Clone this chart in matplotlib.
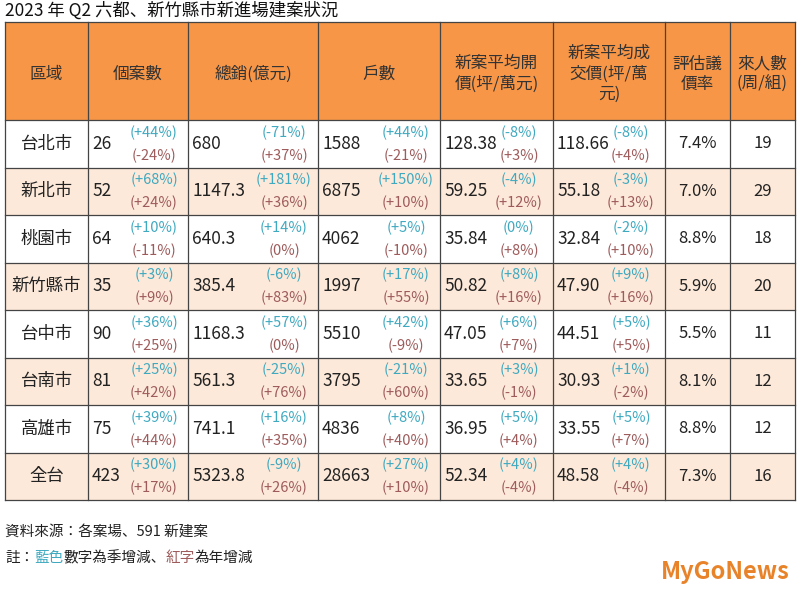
import matplotlib
matplotlib.use("Agg")
import matplotlib.pyplot as plt
from matplotlib.patches import Rectangle
from matplotlib import font_manager

names = {f.name for f in font_manager.fontManager.ttflist}
cands = [n for n in ["Noto Sans CJK TC", "Noto Sans CJK JP", "Noto Sans CJK SC", "Noto Sans CJK KR"] if n in names]
plt.rcParams['font.family'] = cands + ['DejaVu Sans']

title = "2023 年 Q2 六都、新竹縣市新進場建案狀況"
headers = ["區域", "個案數", "總銷(億元)", "戶數", "新案平均開\n價(坪/萬元)", "新案平均成\n交價(坪/萬\n元)", "評估議\n價率", "來人數\n(周/組)"]
regions = ["台北市", "新北市", "桃園市", "新竹縣市", "台中市", "台南市", "高雄市", "全台"]
cases = ["26", "52", "64", "35", "90", "81", "75", "423"]
cases_q = ["+44%", "+68%", "+10%", "+3%", "+36%", "+25%", "+39%", "+30%"]
cases_y = ["-24%", "+24%", "-11%", "+9%", "+25%", "+42%", "+44%", "+17%"]
sales = ["680", "1147.3", "640.3", "385.4", "1168.3", "561.3", "741.1", "5323.8"]
sales_q = ["-71%", "+181%", "+14%", "-6%", "+57%", "-25%", "+16%", "-9%"]
sales_y = ["+37%", "+36%", "0%", "+83%", "0%", "+76%", "+35%", "+26%"]
units = ["1588", "6875", "4062", "1997", "5510", "3795", "4836", "28663"]
units_q = ["+44%", "+150%", "+5%", "+17%", "+42%", "-21%", "+8%", "+27%"]
units_y = ["-21%", "+10%", "-10%", "+55%", "-9%", "+60%", "+40%", "+10%"]
ask = ["128.38", "59.25", "35.84", "50.82", "47.05", "33.65", "36.95", "52.34"]
ask_q = ["-8%", "-4%", "0%", "+8%", "+6%", "+3%", "+5%", "+4%"]
ask_y = ["+3%", "+12%", "+8%", "+16%", "+7%", "-1%", "+4%", "-4%"]
deal = ["118.66", "55.18", "32.84", "47.90", "44.51", "30.93", "33.55", "48.58"]
deal_q = ["-8%", "-3%", "-2%", "+9%", "+5%", "+1%", "+5%", "+4%"]
deal_y = ["+4%", "+13%", "+10%", "+16%", "+5%", "-2%", "+7%", "-4%"]
bargain = ["7.4%", "7.0%", "8.8%", "5.9%", "5.5%", "8.1%", "8.8%", "7.3%"]
visitors = ["19", "29", "18", "20", "11", "12", "12", "16"]

fig = plt.figure(figsize=(8, 6), dpi=100)
ax = fig.add_axes([0, 0, 1, 1])
ax.set_xlim(0, 800); ax.set_ylim(600, 0); ax.axis('off')

xs = [5, 88, 188, 318, 440, 553, 665, 730, 795]
y_head = 22; y_h2 = 120; rh = 47.5
ORANGE = "#F79646"; PEACH = "#FDE9D9"; BLUE = "#3FA9C0"; RED = "#9E5B5B"; TXT = "#222222"

ax.text(5, 11, title, fontsize=12.5, va='center', ha='left', color='#111')
ax.add_patch(Rectangle((xs[0], y_head), xs[-1]-xs[0], y_h2-y_head, fc=ORANGE, ec='none'))
for i, h in enumerate(headers):
    ax.text((xs[i]+xs[i+1])/2, (y_head+y_h2)/2 + 3, h, ha='center', va='center', fontsize=12, color='#333', linespacing=1.25)

groups = [(cases, cases_q, cases_y), (sales, sales_q, sales_y), (units, units_q, units_y),
          (ask, ask_q, ask_y), (deal, deal_q, deal_y)]
for r in range(len(regions)):
    y0 = y_h2 + r*rh
    fc = "white" if r % 2 == 0 else PEACH
    if r == len(regions)-1: fc = PEACH
    ax.add_patch(Rectangle((xs[0], y0), xs[-1]-xs[0], rh, fc=fc, ec='none'))
    yc = y0 + rh/2
    ax.text((xs[0]+xs[1])/2, yc, regions[r], ha='center', va='center', fontsize=12.5, color=TXT)
    for g, (v, q, yy) in enumerate(groups):
        xl, xr = xs[g+1], xs[g+2]
        ax.text(xl+4, yc, v[r], ha='left', va='center', fontsize=12.5, color=TXT)
        xm = xr - 34
        ax.text(xm, yc-11, f"({q[r]})", ha='center', va='center', fontsize=10.5, color=BLUE)
        ax.text(xm, yc+12, f"({yy[r]})", ha='center', va='center', fontsize=10.5, color=RED)
    ax.text((xs[6]+xs[7])/2, yc, bargain[r], ha='center', va='center', fontsize=12, color=TXT)
    ax.text((xs[7]+xs[8])/2, yc, visitors[r], ha='center', va='center', fontsize=12, color=TXT)

y_end = y_h2 + len(regions)*rh
for x in xs:
    ax.plot([x, x], [y_head, y_end], color='#444', lw=0.9)
for k in range(len(regions)+1):
    y = y_h2 + k*rh
    ax.plot([xs[0], xs[-1]], [y, y], color='#444', lw=0.9)
ax.plot([xs[0], xs[-1]], [y_head, y_head], color='#444', lw=0.9)

fs = 10.5
ax.text(5, 533, "資料來源：各案場、591 新建案", fontsize=fs, va='center', ha='left', color='#222')
parts = [("註：", '#222'), ("藍色", BLUE), ("數字為季增減、", '#222'), ("紅字", RED), ("為年增減", '#222')]
x = 5
for s, c in parts:
    ax.text(x, 558, s, fontsize=fs, va='center', ha='left', color=c)
    x += len(s) * 14.6
ax.text(790, 572, "MyGoNews", fontsize=17, fontweight='bold', va='center', ha='right', color='#E8832A')

fig.savefig("out.png", dpi=100)
